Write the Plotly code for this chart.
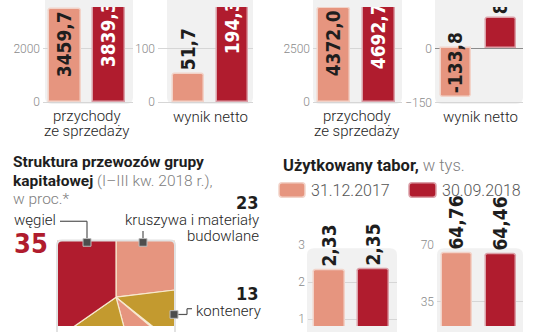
import math
import plotly.graph_objects as go

W, H = 536, 332

# ---------------- data ----------------
periods = ["I–III kw. 2017", "I–III kw. 2018"]
grupa_przychody = [3459.7, 3839.3]
grupa_wynik = [51.7, 194.3]
spolka_przychody = [4372.0, 4692.7]
spolka_wynik = [-133.8, 83.0]

tabor_dates = ["31.12.2017", "30.09.2018"]
tabor_lokomotywy = [2.33, 2.35]
tabor_wagony = [64.76, 64.46]

pie_labels = ["kruszywa i materiały budowlane", "kontenery", "inne", "pozostałe", "węgiel"]
pie_values = [23, 13, 10, 19, 35]

cat_przychody = ["przychody", "ze sprzedaży"]
cat_wynik = ["wynik netto"]

# ---------------- style ----------------
PINK = "#e6957f"
RED = "#b01c2e"
OLIVE = "#c39a2f"
PINK_LINE = "#f2d3c9"
RED_LINE = "#dba0a8"
BG = "#f1f1f1"
GRID = "#d6d6d6"
DARK = "#1e1e1e"
GRAY = "#8a8a8a"
NUM_FONT = "'Liberation Sans Narrow', 'Arial Narrow', 'DejaVu Sans Condensed', Roboto, sans-serif"
TXT_FONT = "Roboto, 'Open Sans', sans-serif"


def X(p):
    return p / W


def Y(p):
    return 1 - p / H


def rrect(x0, y0, x1, y1, r):
    return (f"M {X(x0 + r)},{Y(y0)} L {X(x1 - r)},{Y(y0)} Q {X(x1)},{Y(y0)} {X(x1)},{Y(y0 + r)} "
            f"L {X(x1)},{Y(y1 - r)} Q {X(x1)},{Y(y1)} {X(x1 - r)},{Y(y1)} "
            f"L {X(x0 + r)},{Y(y1)} Q {X(x0)},{Y(y1)} {X(x0)},{Y(y1 - r)} "
            f"L {X(x0)},{Y(y0 + r)} Q {X(x0)},{Y(y0)} {X(x0 + r)},{Y(y0)} Z")


def fmt(v, d):
    return f"{v:.{d}f}".replace(".", ",")


fig = go.Figure()
shapes = []
annotations = []
layout_axes = {}

panels = [
    dict(vals=grupa_przychody, dec=1, x0=43, x1=133, c0=65, c1=109, bw=32,
         top=0, bot=101, va=2000, pa=43, vb=0, pb=99, ticks=[0, 2000],
         pos=["inside", "inside"], anchor="end", zl=False,
         bg=(45, -20, 133, 101)),
    dict(vals=grupa_wynik, dec=1, x0=158, x1=253, c0=188, c1=232.5, bw=31,
         top=0, bot=101, va=100, pa=43, vb=0, pb=99, ticks=[0, 100],
         pos=["outside", "inside"], anchor="end", zl=False,
         bg=(167, -20, 253, 101)),
    dict(vals=spolka_przychody, dec=1, x0=313, x1=402, c0=334, c1=378.5, bw=32,
         top=0, bot=101, va=2500, pa=43, vb=0, pb=99, ticks=[0, 2500],
         pos=["inside", "inside"], anchor="end", zl=False,
         bg=(313, -20, 402, 101)),
    dict(vals=spolka_wynik, dec=1, x0=435, x1=523, c0=456, c1=501, bw=30,
         top=0, bot=101, va=0, pa=43, vb=-150, pb=99.5, ticks=[-150, 0],
         pos=["inside", "outside"], anchor="end", zl=True,
         bg=(435, -20, 523, 101)),
    dict(vals=tabor_lokomotywy, dec=2, x0=308, x1=397, c0=329.5, c1=373.5, bw=31,
         top=248, bot=332, va=3, pa=248, vb=2, pb=286.5, ticks=[1, 2, 3],
         pos=["outside", "outside"], anchor="end", zl=False,
         bg=(307, 251, 397, 360)),
    dict(vals=tabor_wagony, dec=2, x0=437, x1=523, c0=456.5, c1=501, bw=30,
         top=248, bot=332, va=70, pa=248, vb=35, pb=307, ticks=[35, 70],
         pos=["outside", "outside"], anchor="end", zl=False,
         bg=(437, 251, 523, 360)),
]

for i, p in enumerate(panels, start=1):
    xa = "x" if i == 1 else f"x{i}"
    ya = "y" if i == 1 else f"y{i}"
    unit = p["c1"] - p["c0"]
    xr = [(p["x0"] - p["c0"]) / unit, (p["x1"] - p["c0"]) / unit]
    per = (p["va"] - p["vb"]) / (p["pb"] - p["pa"])
    ytop = p["va"] + (p["pa"] - p["top"]) * per
    ybot = p["vb"] - (p["bot"] - p["pb"]) * per
    vals = p["vals"]
    colors = [PINK, RED]
    lines = [PINK_LINE, RED_LINE]
    tcol = []
    for k, pos in enumerate(p["pos"]):
        if pos == "inside" and k == 1:
            tcol.append("white")
        else:
            tcol.append(DARK)
    fig.add_trace(go.Bar(
        x=[0, 1], y=vals, xaxis=xa, yaxis=ya,
        width=p["bw"] / unit,
        marker=dict(color=colors, line=dict(color=lines, width=1.5), cornerradius=3),
        text=[fmt(v, p["dec"]) for v in vals],
        textposition=p["pos"], textangle=-90,
        insidetextanchor=p["anchor"], constraintext="none",
        textfont=dict(family=NUM_FONT, size=19, color=tcol, weight="bold"),
        cliponaxis=(p["top"] == 0),
        hoverinfo="skip", showlegend=False,
    ))
    kx = "xaxis" if i == 1 else f"xaxis{i}"
    ky = "yaxis" if i == 1 else f"yaxis{i}"
    layout_axes[kx] = dict(domain=[X(p["x0"]), X(p["x1"])], range=xr, anchor=ya,
                           showgrid=False, zeroline=False, showticklabels=False,
                           fixedrange=True)
    layout_axes[ky] = dict(domain=[Y(p["bot"]), Y(p["top"])], range=[ybot, ytop], anchor=xa,
                           tickvals=p["ticks"], showgrid=True, gridcolor=GRID, gridwidth=1,
                           zeroline=p["zl"], zerolinecolor="#8c8c8c", zerolinewidth=1.2,
                           showline=False, ticks="", ticklabelstandoff=2,
                           tickfont=dict(family=TXT_FONT, size=12, color=GRAY, weight=300),
                           fixedrange=True)
    bx0, by0, bx1, by1 = p["bg"]
    shapes.append(dict(type="path", path=rrect(bx0, by0, bx1, by1, 7), xref="paper", yref="paper",
                       fillcolor=BG, line=dict(width=0), layer="below"))

# ---------------- square pie ----------------
pie_colors = [PINK, OLIVE, PINK, OLIVE, RED]
total = sum(pie_values)
cum = 0
for lab, v, col in zip(pie_labels, pie_values, pie_colors):
    a0 = cum / total * 360
    a1 = (cum + v) / total * 360
    cum += v
    n = max(2, int((a1 - a0) / 0.25) + 1)
    angs = [a0 + (a1 - a0) * j / n for j in range(n + 1)]
    angs += [c for c in (45, 135, 225, 315) if a0 < c < a1]
    angs.sort()
    xs, ys = [0], [0]
    for a in angs:
        t = math.radians(a)
        s, c = math.sin(t), math.cos(t)
        r = 1 / max(abs(s), abs(c))
        xs.append(r * s)
        ys.append(r * c)
    xs.append(0)
    ys.append(0)
    fig.add_trace(go.Scatter(x=xs, y=ys, xaxis="x7", yaxis="y7", mode="lines",
                             fill="toself", fillcolor=col, name=lab,
                             line=dict(color="#f7e9cf", width=1.2),
                             hoverinfo="skip", showlegend=False))

cx, cy, hs = 116, 302, 59
layout_axes["xaxis7"] = dict(domain=[X(cx - hs), X(cx + hs)], range=[-1, 1], anchor="y7",
                             visible=False, fixedrange=True)
layout_axes["yaxis7"] = dict(domain=[0, Y(cy - hs)], range=[-(H - cy) / hs, 1], anchor="x7",
                             visible=False, fixedrange=True)
shapes.append(dict(type="path", path=rrect(cx - hs, cy - hs, cx + hs, cy + hs, 5),
                   xref="paper", yref="paper", line=dict(color="#e2e2e2", width=2),
                   fillcolor="rgba(0,0,0,0)", layer="above"))


def ann(text, x, y, xa="left", size=15, color=DARK, weight=400, family=TXT_FONT):
    annotations.append(dict(text=text, x=X(x), y=Y(y), xref="paper", yref="paper",
                            xanchor=xa, yanchor="middle", showarrow=False,
                            font=dict(family=family, size=size, color=color, weight=weight)))


def line(x0, y0, x1, y1, color="#555555"):
    shapes.append(dict(type="line", x0=X(x0), y0=Y(y0), x1=X(x1), y1=Y(y1),
                       xref="paper", yref="paper", line=dict(color=color, width=1.2), layer="above"))


def marker(x, y):
    shapes.append(dict(type="rect", x0=X(x - 4), x1=X(x + 4), y0=Y(y - 4), y1=Y(y + 4),
                       xref="paper", yref="paper", fillcolor="#4d4d4d",
                       line=dict(color="#bdbdbd", width=1), layer="above"))


# category labels
for cxp in (86.5, 356.5):
    ann(cat_przychody[0], cxp, 113.5, xa="center", size=15, weight=300)
    ann(cat_przychody[1], cxp, 129, xa="center", size=15, weight=300)
for cxp in (210.5, 480):
    ann(cat_wynik[0], cxp, 114, xa="center", size=15, weight=300)

# titles
ann("<b>Struktura przewozów grupy</b>", 11, 161, size=15.5)
ann("<b>kapitałowej</b> <span style='color:#808080;font-weight:300'>(I–III kw. 2018 r.),</span>",
    11, 181, size=15.5)
ann("w proc.*", 11, 200, size=15.5, color="#808080", weight=300)
ann("<b>Użytkowany tabor,</b><span style='color:#808080;font-weight:300'> w tys.</span>",
    281, 165, size=16.5)

# legend
legend_cols = [(PINK, PINK_LINE), (RED, RED_LINE)]
for (fc, lc), lab, (bx0, bx1, tx) in zip(legend_cols, tabor_dates,
                                         [(279, 305, 309), (409, 436, 440)]):
    shapes.append(dict(type="path", path=rrect(bx0, 183, bx1, 198, 3), xref="paper", yref="paper",
                       fillcolor=fc, line=dict(color=lc, width=1.5), layer="above"))
    ann(lab, tx, 191, size=16, color="#555555", weight=300)

# pie labels
ann("węgiel", 12, 222, size=15, weight=300)
ann(f"<b>{pie_values[4]}</b>", 12, 246, size=27, color=RED, family=NUM_FONT)
ann(f"<b>{pie_values[0]}</b>", 261, 203, xa="right", size=18, family=NUM_FONT)
ann("kruszywa i materiały", 261, 222, xa="right", size=15, weight=300)
ann("budowlane", 261, 238, xa="right", size=15, weight=300)
ann(f"<b>{pie_values[1]}</b>", 261, 298, xa="right", size=18, family=NUM_FONT)
ann("kontenery", 194, 316, size=15, weight=300)

line(60, 223, 87, 223)
line(87, 223, 87, 244)
marker(87, 245)
line(143, 233, 143, 244)
marker(143, 245)
line(177, 320, 187, 320)
line(187, 320, 187, 314)
line(187, 314, 192, 314)
marker(174, 320)

fig.update_layout(
    width=W, height=H, autosize=False,
    margin=dict(l=0, r=0, t=0, b=0),
    paper_bgcolor="white", plot_bgcolor="rgba(0,0,0,0)",
    shapes=shapes, annotations=annotations,
    showlegend=False, bargap=0,
    **layout_axes,
)

fig.write_html("out.html")
